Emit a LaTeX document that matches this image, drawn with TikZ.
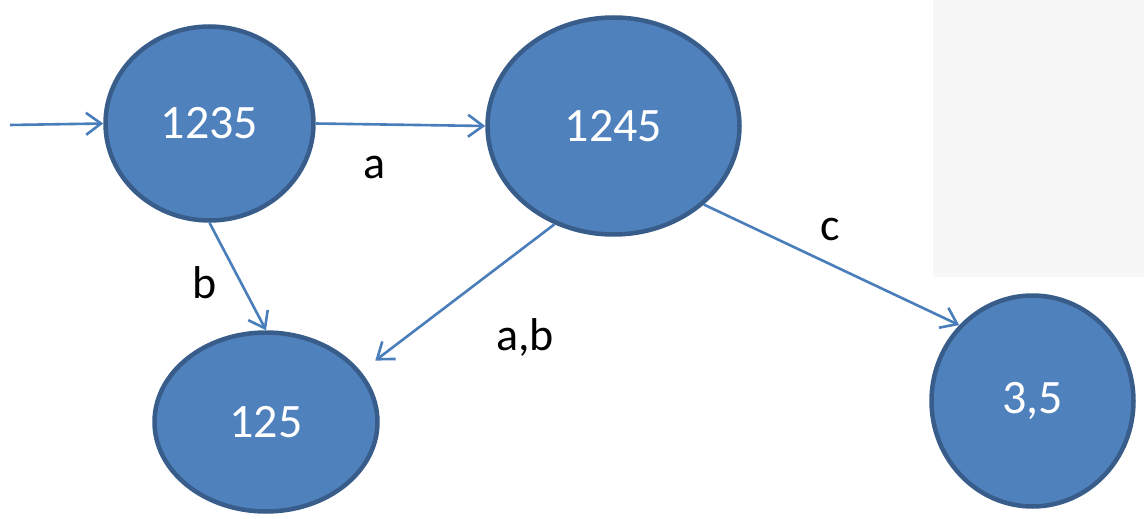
\documentclass[tikz,border=0pt]{standalone}
\usepackage{fontspec}
\setmainfont{Carlito}
\usetikzlibrary{shapes.geometric,arrows.meta}
\definecolor{fillblue}{HTML}{4F81BD}
\definecolor{edgeblue}{HTML}{385D8A}
\definecolor{arrowblue}{HTML}{4A7EBB}
\definecolor{panelgrey}{HTML}{F7F7F7}
\begin{document}
\begin{tikzpicture}[x=1pt,y=-1pt,
  state/.style={ellipse,draw=edgeblue,line width=4.5pt,fill=fillblue,text=white,
    font=\fontsize{48}{52}\selectfont,inner sep=0pt},
  trans/.style={draw=arrowblue,line width=2.6pt,
    -{Straight Barb[length=15pt,width=22pt,line width=2.6pt]}},
  lbl/.style={font=\fontsize{46}{50}\selectfont,text=black,anchor=base,inner sep=0pt}]
\useasboundingbox (0,0) rectangle (1144,519);
\fill[panelgrey] (933,0) rectangle (1144,277);
\node[state,minimum width=208pt,minimum height=194pt] (n1235) at (209.5,123.5) {1235};
\node[state,minimum width=252pt,minimum height=217pt] (n1245) at (613.5,126) {1245};
\node[state,minimum width=223pt,minimum height=179pt] (n125) at (266,422) {125};
\node[state,minimum width=202pt,minimum height=211pt] (n35) at (1032.5,401) {3,5};
\coordinate (start) at (10,125);
\draw[trans] (start) -- (n1235.west);
\draw[trans] (n1235.east) -- (n1245.west);
\draw[trans] (n1235.south) -- (n125.north);
\draw[trans,shorten >=18pt] (n1245.239) -- (n125.28);
\draw[trans] (n1245.-41) -- (n35.134);
\node[lbl] (la) at (375,178) {a};
\node[lbl] (lb) at (205,298) {b};
\node[lbl] (lab) at (525,350) {a,b};
\node[lbl] (lc) at (830,240) {c};
\end{tikzpicture}
\end{document}
